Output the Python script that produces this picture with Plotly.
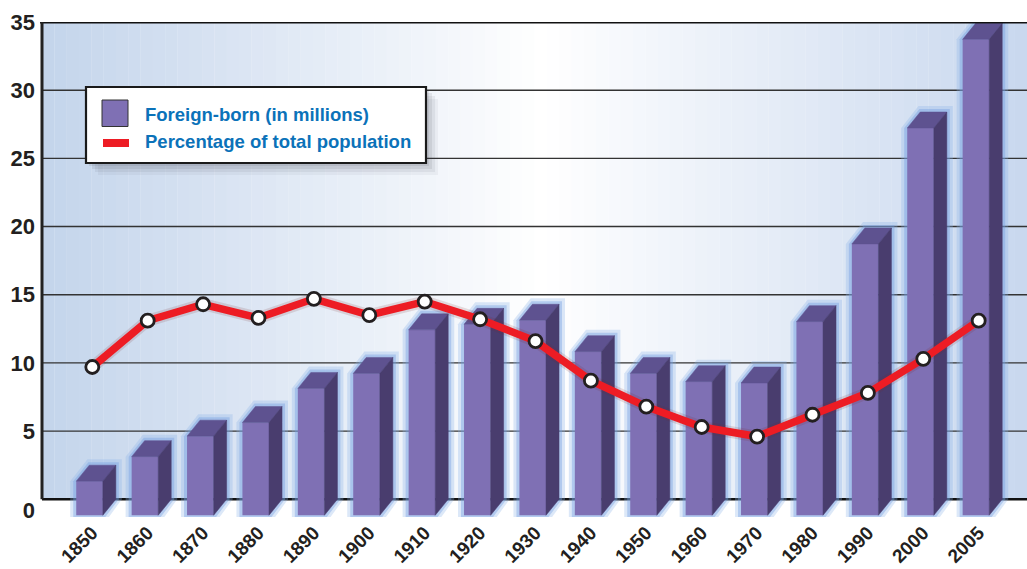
import plotly.graph_objects as go

# ---------------- data ----------------
years = ['1850', '1860', '1870', '1880', '1890', '1900', '1910', '1920', '1930',
         '1940', '1950', '1960', '1970', '1980', '1990', '2000', '2005']
foreign_born = [2.5, 4.3, 5.8, 6.8, 9.3, 10.4, 13.6, 14.0, 14.3,
                12.0, 10.4, 9.8, 9.7, 14.2, 19.9, 28.4, 34.9]
pct_total = [9.7, 13.1, 14.3, 13.3, 14.7, 13.5, 14.5, 13.2, 11.6,
             8.7, 6.8, 5.3, 4.6, 6.2, 7.8, 10.3, 13.1]
y_tick_values = [0, 5, 10, 15, 20, 25, 30, 35]
y_tick_labels = ['0', '5', '10', '15', '20', '25', '30', '35']
legend_labels = ['Foreign-born (in millions)', 'Percentage of total population']

# ---------------- layout geometry ----------------
W, H = 1027, 569
ML, MR, MT, MB = 42, 0, 22, 52
PW, PH = W - ML - MR, H - MT - MB
X_RANGE = [-0.908, 16.872]
Y_RANGE = [-1.3, 35]
XU = PW / (X_RANGE[1] - X_RANGE[0])   # px per x unit
YU = PH / (Y_RANGE[1] - Y_RANGE[0])   # px per y unit

DX = 13 / XU      # depth of the 3-D box (x)
DY = 16 / YU      # depth of the 3-D box (y)
FL = -0.29        # front-face left offset from category position
FW = 0.48         # front-face width

C_FRONT = '#7f70b4'
C_TOP = '#5e5290'
C_SIDE = '#493d6e'
C_TEXT = '#231f20'
C_BLUE = '#0b72b9'
C_RED = '#ed1c24'

xs = list(range(len(years)))


def px2paper(px, py):
    return (px - ML) / PW, 1 - (py - MT) / PH


fig = go.Figure()
shapes = []


def lerp(c1, c2, t):
    return '#%02x%02x%02x' % tuple(int(round(a + (b - a) * t)) for a, b in zip(c1, c2))


# ---------------- background gradient (below grid) ----------------
left_c, mid_c, right_c = (195, 212, 235), (255, 255, 255), (200, 215, 238)
N = 80
for k in range(N):
    t = (k + 0.5) / N
    if t < 0.51:
        col = lerp(left_c, mid_c, t / 0.51)
    else:
        col = lerp(mid_c, right_c, (t - 0.51) / 0.49)
    shapes.append(dict(type='rect', xref='paper', yref='y', x0=k / N, x1=(k + 1.02) / N,
                       y0=0, y1=35, fillcolor=col, line=dict(width=0), layer='below'))

# ---------------- grid lines and baseline ----------------
for v in y_tick_values[1:-1]:
    shapes.append(dict(type='line', xref='paper', yref='y', x0=0, x1=1, y0=v, y1=v,
                       line=dict(color='#333333', width=1.4), layer='between'))
shapes.append(dict(type='line', xref='paper', yref='y', x0=0, x1=1, y0=0, y1=0,
                   line=dict(color='#111111', width=2.6), layer='between'))

# ---------------- glow behind the bars (between grid and traces) ----------------
for exp_px, col in [(6, 'rgba(140,178,232,0.30)'), (3, 'rgba(115,158,225,0.40)')]:
    ex, ey = exp_px / XU, exp_px / YU
    for i, v in zip(xs, foreign_born):
        pts = [(i + FL - ex, -DY - ey), (i + FL - ex, v - DY), (i + FL + DX - ex * 0.3, v + ey),
               (i + FL + FW + DX + ex, v + ey), (i + FL + FW + DX + ex, 0),
               (i + FL + FW + ex * 0.5, -DY - ey)]
        path = 'M ' + ' L '.join('%f,%f' % p for p in pts) + ' Z'
        shapes.append(dict(type='path', xref='x', yref='y', path=path, fillcolor=col,
                           line=dict(width=0), layer='between'))

# ---------------- front faces (bars) ----------------
fig.add_trace(go.Bar(x=xs, y=foreign_born, base=[-DY] * len(xs), width=FW, offset=FL,
                     marker=dict(color=C_FRONT, line=dict(width=0)),
                     name=legend_labels[0], showlegend=False))

# ---------------- top and side faces ----------------
tx, ty, sx, sy = [], [], [], []
for i, v in zip(xs, foreign_born):
    top = [(i + FL, v - DY), (i + FL + FW, v - DY), (i + FL + FW + DX, v), (i + FL + DX, v)]
    side = [(i + FL + FW, -DY), (i + FL + FW + DX, 0), (i + FL + FW + DX, v), (i + FL + FW, v - DY)]
    tx += [p[0] for p in top] + [top[0][0], None]
    ty += [p[1] for p in top] + [top[0][1], None]
    sx += [p[0] for p in side] + [side[0][0], None]
    sy += [p[1] for p in side] + [side[0][1], None]
fig.add_trace(go.Scatter(x=tx, y=ty, mode='lines', fill='toself', fillcolor=C_TOP,
                         line=dict(width=0.5, color=C_TOP), hoverinfo='skip', showlegend=False))
fig.add_trace(go.Scatter(x=sx, y=sy, mode='lines', fill='toself', fillcolor=C_SIDE,
                         line=dict(width=0.5, color=C_SIDE), hoverinfo='skip', showlegend=False))

# ---------------- percentage line ----------------
fig.add_trace(go.Scatter(x=xs, y=pct_total, mode='lines', line=dict(color='rgba(120,40,40,0.15)', width=12),
                         hoverinfo='skip', showlegend=False))
fig.add_trace(go.Scatter(x=xs, y=pct_total, mode='lines+markers', name=legend_labels[1],
                         line=dict(color=C_RED, width=7.5),
                         marker=dict(size=13, color='white', line=dict(color=C_TEXT, width=2.8)),
                         showlegend=False))

# ---------------- borders ----------------
shapes.append(dict(type='line', xref='paper', yref='y', x0=-0.002, x1=1, y0=35, y1=35,
                   line=dict(color='#111111', width=3), layer='above'))
shapes.append(dict(type='line', xref='paper', yref='y', x0=0, x1=0, y0=0, y1=35,
                   line=dict(color='#222222', width=3), layer='above'))

# ---------------- custom legend ----------------
bx0, by0, bx1, by1 = 86, 87, 426, 163
for off, op in [(12, 0.05), (9, 0.07), (6, 0.09), (3, 0.1)]:
    a = px2paper(bx0 + off, by0 + off)
    b = px2paper(bx1 + off, by1 + off)
    shapes.append(dict(type='rect', xref='paper', yref='paper', x0=a[0], y0=a[1], x1=b[0], y1=b[1],
                       fillcolor='rgba(60,60,70,%s)' % op, line=dict(width=0), layer='above'))
a = px2paper(bx0, by0)
b = px2paper(bx1, by1)
shapes.append(dict(type='rect', xref='paper', yref='paper', x0=a[0], y0=a[1], x1=b[0], y1=b[1],
                   fillcolor='white', line=dict(color='#1a1a1a', width=2.2), layer='above'))
a = px2paper(102, 100)
b = px2paper(128, 126.5)
shapes.append(dict(type='rect', xref='paper', yref='paper', x0=a[0], y0=a[1], x1=b[0], y1=b[1],
                   fillcolor=C_FRONT, line=dict(color='#333333', width=1), layer='above'))
a = px2paper(103, 139)
b = px2paper(129, 147)
shapes.append(dict(type='rect', xref='paper', yref='paper', x0=a[0], y0=a[1], x1=b[0], y1=b[1],
                   fillcolor=C_RED, line=dict(width=0), layer='above'))

annotations = []
for label, cy in zip(legend_labels, [114.5, 141.5]):
    p = px2paper(143, cy)
    annotations.append(dict(x=p[0], y=p[1], xref='paper', yref='paper', text=label,
                            xanchor='left', yanchor='middle', showarrow=False,
                            font=dict(family='Liberation Sans', size=18.5, color=C_BLUE, weight='bold')))

# y tick positions: the "0" label sits a little below the baseline in the reference
y_tick_pos = [v if v > 0 else -0.84 for v in y_tick_values]

fig.update_layout(
    width=W, height=H,
    margin=dict(l=ML, r=MR, t=MT, b=MB, pad=0, autoexpand=False),
    paper_bgcolor='white', plot_bgcolor='white',
    shapes=shapes, annotations=annotations,
    showlegend=False,
    xaxis=dict(range=X_RANGE, tickmode='array', tickvals=xs, ticktext=years, tickangle=-45,
               showgrid=False, zeroline=False, showline=False, ticks='', automargin=False,
               ticklabelstandoff=0,
               tickfont=dict(family='Liberation Sans', size=19, color=C_TEXT, weight='bold'),
               fixedrange=True),
    yaxis=dict(range=Y_RANGE, tickmode='array', tickvals=y_tick_pos, ticktext=y_tick_labels,
               showgrid=False, zeroline=False, showline=False, ticks='', ticklabelstandoff=6,
               automargin=False,
               tickfont=dict(family='Liberation Sans', size=22, color=C_TEXT, weight='bold'),
               fixedrange=True),
)

fig.write_html('out.html', config={'displayModeBar': False},
               post_script="document.body.style.margin='0';document.body.style.overflow='hidden';")
